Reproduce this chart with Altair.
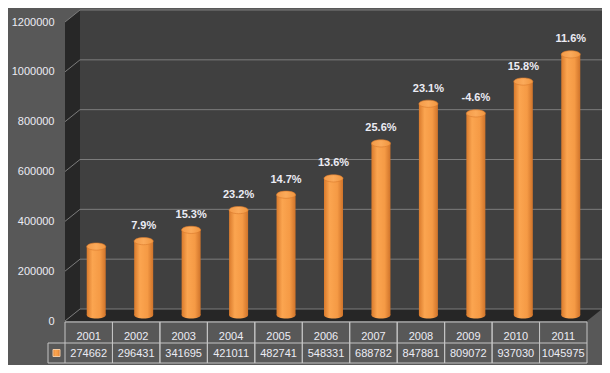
import altair as alt
import pandas as pd

# ---- data ----
years = ["2001", "2002", "2003", "2004", "2005", "2006", "2007", "2008", "2009", "2010", "2011"]
values = [274662, 296431, 341695, 421011, 482741, 548331, 688782, 847881, 809072, 937030, 1045975]
growth = ["", "7.9%", "15.3%", "23.2%", "14.7%", "13.6%", "25.6%", "23.1%", "-4.6%", "15.8%", "11.6%"]
y_ticks = [0, 200000, 400000, 600000, 800000, 1000000, 1200000]

# ---- layout / style ----
W, H = 522, 299          # front plane of the plot area
DX, DY = 15, 12          # 3D depth offset
BAR_W = 19
BG = "#585858"
WALL = "#404040"
SIDE = "#272727"
FLOOR = "#262626"
GRID = "#7c7c7c"
LINE = "#c4c4c4"
TXT = "#ececf4"
FONT = "Liberation Sans"
ROW1, ROW2, TBOT = H + 1, H + 22, H + 42   # table row lines
LEG = -17                                  # legend cell left edge

df = pd.DataFrame({"year": years, "value": values, "growth": growth})
ticks_df = pd.DataFrame({"v": y_ticks})
wall_df = pd.DataFrame({"top": [max(y_ticks)], "bottom": [min(y_ticks)]})
one = pd.DataFrame({"k": [0]})

yscale = alt.Scale(domain=[min(y_ticks), max(y_ticks)], nice=False)
yaxis = alt.Axis(values=y_ticks, format="d", title=None, domain=False, ticks=False,
                 grid=False, labelPadding=11, labelColor=TXT, labelFontSize=11,
                 labelFont=FONT)
xscale = alt.Scale(domain=years, paddingInner=0, paddingOuter=0)
xs = alt.X("year:N", scale=xscale, axis=None)


def Y(field):
    return alt.Y(field, scale=yscale, axis=yaxis)


body_grad = alt.LinearGradient(
    gradient="linear", x1=0, x2=1, y1=0, y2=0,
    stops=[alt.GradientStop(color="#d97a2c", offset=0),
           alt.GradientStop(color="#fba550", offset=0.3),
           alt.GradientStop(color="#f59a45", offset=0.7),
           alt.GradientStop(color="#cf732a", offset=1)])
top_grad = alt.LinearGradient(
    gradient="linear", x1=0, x2=1, y1=0, y2=0,
    stops=[alt.GradientStop(color="#f39a48", offset=0),
           alt.GradientStop(color="#fbaa5a", offset=0.5),
           alt.GradientStop(color="#f0953f", offset=1)])

rx, ry = BAR_W / 2, 3.6
ellipse = f"M {-rx} 0 A {rx} {ry} 0 1 0 {rx} 0 A {rx} {ry} 0 1 0 {-rx} 0 Z"
side_path = f"M 0 0 L {DX} {-DY} L {DX} {H - DY} L 0 {H} Z"
floor_path = f"M 0 {H} L {DX} {H - DY} L {W + DX} {H - DY} L {W} {H} Z"

# back wall
back = alt.Chart(wall_df).mark_rect(color=WALL, yOffset=-DY, y2Offset=-DY).encode(
    x=alt.value(DX), x2=alt.value(W + DX), y=Y("top:Q"), y2="bottom:Q")

side = alt.Chart(one).mark_point(shape=side_path, size=4, filled=True, opacity=1,
                                 fill=SIDE, strokeWidth=0).encode(x=alt.value(0), y=alt.value(0))
floor = alt.Chart(one).mark_point(shape=floor_path, size=4, filled=True, opacity=1,
                                  fill=FLOOR, strokeWidth=0).encode(x=alt.value(0), y=alt.value(0))

grid_back = alt.Chart(ticks_df).mark_rule(color=GRID, strokeWidth=1, yOffset=-DY).encode(
    x=alt.value(DX), x2=alt.value(W + DX), y=Y("v:Q"))
grid_side = alt.Chart(ticks_df).mark_rule(color=GRID, strokeWidth=1, y2Offset=-DY).encode(
    x=alt.value(0), x2=alt.value(DX), y=Y("v:Q"), y2="v:Q")

# cylinders
cyl_bottom = alt.Chart(df).mark_point(shape=ellipse, size=4, filled=True, opacity=1, fill=body_grad,
                                      strokeWidth=0, xOffset=DX / 2, yOffset=-DY / 2).encode(
    x=xs, y=alt.datum(0, scale=yscale, axis=yaxis))
cyl_body = alt.Chart(df).mark_bar(width=BAR_W, color=body_grad, xOffset=DX / 2,
                                  yOffset=-DY / 2, y2Offset=-DY / 2).encode(
    x=xs, y=Y("value:Q"))
cyl_top = alt.Chart(df).mark_point(shape=ellipse, size=4, filled=True, opacity=1, fill=top_grad,
                                   stroke="#d9782c", strokeWidth=0.6,
                                   xOffset=DX / 2, yOffset=-DY / 2).encode(
    x=xs, y=Y("value:Q"))
labels = alt.Chart(df).mark_text(font=FONT, fontSize=11, fontWeight="bold", color=TXT,
                                 baseline="middle", xOffset=DX / 2, yOffset=-DY / 2, dy=-15).encode(
    x=xs, y=Y("value:Q"), text="growth:N")

# data table
t_years = alt.Chart(df).mark_text(font=FONT, fontSize=11, color=TXT, baseline="middle").encode(
    x=xs, y=alt.value((ROW1 + ROW2) / 2 + 4), text="year:N")
t_vals = alt.Chart(df).mark_text(font=FONT, fontSize=11, color=TXT, baseline="middle").encode(
    x=xs, y=alt.value((ROW2 + TBOT) / 2 + 1), text=alt.Text("value:Q", format="d"))
v_left = alt.Chart(df).mark_rule(color=LINE, strokeWidth=1).encode(
    x=alt.X("year:N", scale=xscale, axis=None, bandPosition=0),
    y=alt.value(ROW1), y2=alt.value(TBOT))
v_right = alt.Chart(df).mark_rule(color=LINE, strokeWidth=1).encode(
    x=alt.X("year:N", scale=xscale, axis=None, bandPosition=1),
    y=alt.value(ROW1), y2=alt.value(TBOT))
h_top = alt.Chart(one).mark_rule(color=LINE, strokeWidth=1).encode(
    x=alt.value(0), x2=alt.value(W), y=alt.value(ROW1))
h_mid = alt.Chart(one).mark_rule(color=LINE, strokeWidth=1).encode(
    x=alt.value(LEG), x2=alt.value(W), y=alt.value(ROW2))
h_bot = alt.Chart(one).mark_rule(color=LINE, strokeWidth=1).encode(
    x=alt.value(LEG), x2=alt.value(W), y=alt.value(TBOT))
leg_left = alt.Chart(one).mark_rule(color=LINE, strokeWidth=1).encode(
    x=alt.value(LEG), y=alt.value(ROW2), y2=alt.value(TBOT))
leg_mark = alt.Chart(one).mark_point(shape="square", size=49, filled=True, opacity=1,
                                     fill=body_grad, stroke="#f3c9a0", strokeWidth=1).encode(
    x=alt.value(LEG / 2), y=alt.value((ROW2 + TBOT) / 2))

chart = alt.layer(
    back, side, floor, grid_back, grid_side,
    cyl_bottom, cyl_body, cyl_top, labels,
    t_years, t_vals, v_left, v_right, h_top, h_mid, h_bot, leg_left, leg_mark,
).properties(
    width=W, height=H,
    padding={"left": 57, "top": 14, "right": 15, "bottom": 44},
    autosize=alt.AutoSizeParams(type="none"),
    background=BG,
).configure_view(strokeWidth=0)

chart.save("out.html", embed_options={"renderer": "svg", "actions": False})
